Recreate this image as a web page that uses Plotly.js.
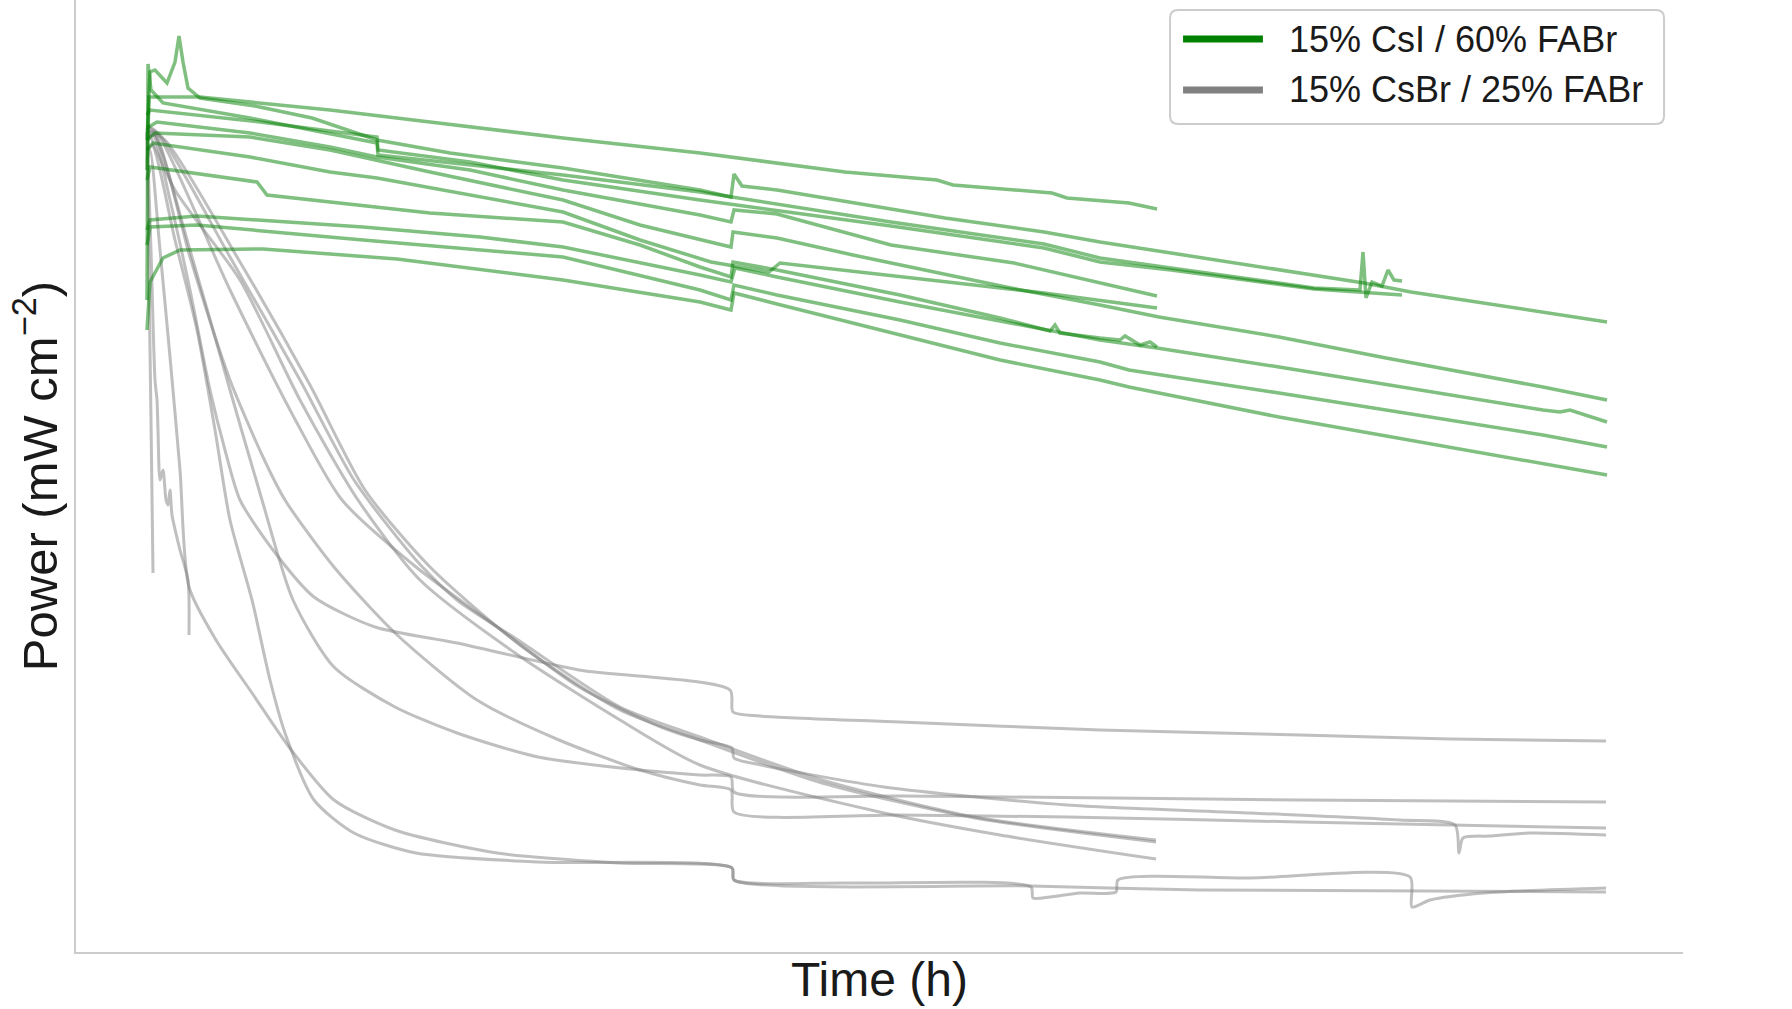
<!DOCTYPE html>
<html>
<head>
<meta charset="utf-8">
<script src="https://cdn.plot.ly/plotly-3.0.1.min.js"></script>
<style>
  html, body { margin: 0; padding: 0; background: #fff; }
  #chart { width: 1792px; height: 1009px; }
</style>
</head>
<body>
<div id="chart"></div>
<script>
// 15% CsI / 60% FABr cells: time (h) and power (mW cm-2)
var g1T = [0, 2, 53, 183, 283, 416, 553, 698, 790, 806, 905, 920, 982, 1010];
var g1P = [15.64, 17.10, 17.10, 16.84, 16.60, 16.28, 15.98, 15.60, 15.44, 15.34, 15.18, 15.08, 14.98, 14.86];
var g2T = [0, 3, 8, 20, 28, 32, 36, 41, 53, 108, 165, 230, 303, 416, 553, 584, 587, 595, 630, 691, 798, 897, 953, 1024, 1217, 1264, 1460];
var g2P = [16.24, 17.60, 17.64, 17.38, 17.80, 18.32, 17.80, 17.28, 17.08, 16.92, 16.68, 16.24, 15.98, 15.68, 15.24, 15.10, 15.56, 15.32, 15.24, 15.04, 14.68, 14.40, 14.20, 13.98, 13.38, 13.20, 12.60];
var g3T = [0, 1, 4, 16, 103, 230, 231, 323, 416, 553, 744, 897, 953, 1024, 1167, 1213, 1216, 1219, 1225, 1235, 1241, 1247, 1255];
var g3P = [13.04, 17.76, 17.24, 16.98, 16.68, 16.18, 15.94, 15.74, 15.54, 15.20, 14.60, 14.16, 13.88, 13.68, 13.28, 13.24, 14.00, 13.08, 13.40, 13.32, 13.64, 13.44, 13.42];
var g4T = [0, 3, 113, 230, 231, 323, 416, 553, 744, 897, 953, 1024, 1167, 1215, 1255];
var g4P = [16.74, 16.84, 16.60, 16.30, 16.04, 15.80, 15.44, 15.04, 14.52, 14.08, 13.80, 13.64, 13.26, 13.20, 13.14];
var g5T = [0, 10, 103, 183, 230, 323, 416, 553, 584, 587, 630, 744, 867, 953, 1010];
var g5P = [16.48, 16.60, 16.38, 16.10, 15.90, 15.64, 15.24, 14.74, 14.60, 14.84, 14.76, 14.14, 13.78, 13.38, 13.12];
var g6T = [0, 6, 103, 183, 230, 323, 416, 493, 553, 564, 622, 633, 783, 897, 1010];
var g6P = [16.04, 16.18, 15.90, 15.60, 15.48, 15.14, 14.80, 14.24, 13.88, 13.80, 13.60, 13.78, 13.44, 13.18, 12.88];
var g7T = [0, 8, 103, 183, 283, 416, 493, 553, 584, 586, 630, 706, 859, 953, 1012, 1132, 1239, 1396, 1460];
var g7P = [16.24, 16.38, 16.30, 16.04, 15.60, 15.04, 14.54, 14.24, 14.10, 14.40, 14.28, 13.94, 13.30, 12.94, 12.70, 12.30, 11.88, 11.30, 11.04];
var g8T = [0, 3, 110, 120, 283, 416, 493, 553, 584, 586, 630, 753, 853, 903, 908, 913, 953, 973, 978, 993, 1003, 1010];
var g8P = [15.44, 15.70, 15.40, 15.14, 14.78, 14.60, 14.14, 13.70, 13.50, 13.80, 13.64, 13.14, 12.68, 12.42, 12.54, 12.38, 12.28, 12.24, 12.32, 12.14, 12.20, 12.10];
var g9T = [0, 3, 50, 216, 333, 416, 553, 584, 588, 630, 753, 953, 1010, 1132, 1396, 1413, 1423, 1460];
var g9P = [14.44, 14.64, 14.72, 14.50, 14.30, 14.10, 13.54, 13.40, 13.68, 13.50, 13.00, 12.24, 12.08, 11.70, 10.84, 10.80, 10.84, 10.60];
var g10T = [0, 3, 50, 216, 416, 553, 584, 587, 630, 753, 853, 953, 982, 1132, 1396, 1413, 1460];
var g10P = [14.14, 14.50, 14.54, 14.24, 13.90, 13.24, 13.04, 13.34, 13.14, 12.64, 12.18, 11.80, 11.64, 11.18, 10.34, 10.28, 10.10];
var g11T = [0, 3, 16, 33, 116, 250, 416, 553, 584, 587, 630, 753, 853, 953, 982, 1132, 1396, 1413, 1460];
var g11P = [12.44, 13.40, 13.88, 14.04, 14.06, 13.86, 13.44, 13.00, 12.84, 13.18, 12.96, 12.34, 11.84, 11.44, 11.30, 10.70, 9.78, 9.72, 9.54];

// 15% CsBr / 25% FABr cells
var k1T = [0, 2, 4, 6];
var k1P = [16.24, 13.44, 10.64, 7.58];
var k2T = [0, 4, 8, 10, 11, 13, 16, 19, 21, 23, 25, 33, 41, 42];
var k2P = [16.40, 14.04, 11.44, 11.04, 10.44, 9.44, 9.64, 9.04, 8.94, 9.24, 8.74, 8.04, 7.44, 6.34];
var k3T = [0, 3, 13, 23, 33, 42, 69, 105, 142, 187, 248, 350, 473, 585, 587, 703, 884, 886, 903, 933, 969, 971, 1103, 1263, 1265, 1283, 1337, 1459];
var k3P = [15.84, 16.04, 14.04, 11.90, 9.64, 7.30, 6.24, 5.18, 4.10, 3.04, 2.44, 1.98, 1.78, 1.68, 1.44, 1.38, 1.30, 1.08, 1.10, 1.18, 1.20, 1.44, 1.48, 1.50, 0.90, 1.04, 1.18, 1.28];
var k4T = [0, 5, 28, 50, 68, 83, 105, 123, 138, 167, 207, 269, 391, 585, 587, 884, 1053, 1459];
var k4P = [16.04, 16.14, 14.24, 12.44, 10.44, 8.64, 7.04, 5.44, 4.38, 3.04, 2.38, 1.98, 1.80, 1.68, 1.44, 1.32, 1.24, 1.20];
var k5T = [0, 6, 23, 43, 63, 78, 93, 126, 167, 228, 310, 432, 583, 586, 613, 753, 953, 1153, 1303, 1459];
var k5P = [16.24, 16.34, 15.04, 13.24, 11.24, 10.04, 9.04, 8.04, 7.10, 6.50, 6.18, 5.64, 5.24, 4.80, 4.72, 4.60, 4.44, 4.34, 4.26, 4.22];
var k6T = [0, 6, 43, 83, 115, 146, 187, 248, 310, 391, 493, 553, 584, 587, 753, 859, 1153, 1459];
var k6P = [16.34, 16.40, 14.04, 11.24, 9.04, 7.04, 5.70, 4.90, 4.38, 3.90, 3.64, 3.54, 3.50, 3.20, 3.12, 3.10, 3.04, 3.00];
var k7T = [0, 8, 43, 83, 116, 138, 187, 248, 330, 412, 493, 553, 584, 587, 753, 920, 1153, 1459];
var k7P = [16.28, 16.34, 13.90, 11.44, 9.90, 9.04, 7.70, 6.38, 5.04, 4.24, 3.64, 3.34, 3.24, 2.80, 2.74, 2.70, 2.60, 2.48];
var k8T = [0, 10, 83, 150, 195, 269, 350, 432, 514, 553, 585, 587, 614, 737, 920, 1104, 1253, 1308, 1312, 1316, 1343, 1383, 1459];
var k8P = [16.48, 16.38, 13.24, 10.58, 9.04, 7.70, 6.50, 5.30, 4.50, 4.24, 4.08, 3.88, 3.74, 3.30, 2.94, 2.78, 2.64, 2.54, 1.98, 2.28, 2.32, 2.38, 2.34];
var k9T = [0, 13, 83, 153, 207, 269, 310, 371, 473, 553, 675, 828, 1009];
var k9P = [16.54, 16.34, 13.90, 11.44, 9.44, 7.84, 7.04, 6.24, 4.90, 4.30, 3.44, 2.70, 2.24];
var k10T = [0, 18, 93, 163, 218, 283, 373, 473, 553, 675, 828, 1009];
var k10P = [16.44, 16.24, 13.80, 11.34, 9.24, 7.70, 6.14, 4.84, 4.24, 3.38, 2.68, 2.20];
var k11T = [0, 28, 93, 153, 211, 273, 371, 473, 553, 737, 853, 1009];
var k11P = [16.48, 15.24, 13.44, 11.04, 9.04, 7.44, 5.94, 4.64, 3.74, 2.78, 2.34, 1.86];

var csiName = '15% CsI / 60% FABr';
var csbrName = '15% CsBr / 25% FABr';

var greenCells = [[g1T, g1P], [g2T, g2P], [g3T, g3P], [g4T, g4P], [g5T, g5P], [g6T, g6P],
                  [g7T, g7P], [g8T, g8P], [g9T, g9P], [g10T, g10P], [g11T, g11P]];
var grayCells = [[k1T, k1P], [k2T, k2P], [k3T, k3P], [k4T, k4P], [k5T, k5P], [k6T, k6P],
                 [k7T, k7P], [k8T, k8P], [k9T, k9P], [k10T, k10P], [k11T, k11P]];

var data = [];
grayCells.forEach(function(c) {
  data.push({
    x: c[0], y: c[1], type: 'scatter', mode: 'lines', name: csbrName,
    line: {color: 'rgba(128,128,128,0.5)', width: 3, shape: 'spline', smoothing: 0.7},
    showlegend: false
  });
});
greenCells.forEach(function(c) {
  data.push({
    x: c[0], y: c[1], type: 'scatter', mode: 'lines', name: csiName,
    line: {color: 'rgba(0,128,0,0.5)', width: 3.5}, showlegend: false
  });
});

var font = '"Liberation Sans", Arial, sans-serif';

var layout = {
  width: 1792,
  height: 1009,
  margin: {l: 76, r: 109, t: 0, b: 57},
  paper_bgcolor: '#ffffff',
  plot_bgcolor: '#ffffff',
  showlegend: false,
  font: {family: font, color: '#1a1a1a'},
  xaxis: {
    range: [-71, 1536],
    showline: true, linecolor: '#cccccc', linewidth: 2,
    showticklabels: false, ticks: '', showgrid: false, zeroline: false,
    title: {text: 'Time (h)', font: {size: 48, family: font, color: '#1a1a1a'}, standoff: 9}
  },
  yaxis: {
    range: [0, 19.04],
    showline: true, linecolor: '#cccccc', linewidth: 2,
    showticklabels: false, ticks: '', showgrid: false, zeroline: false,
    title: {text: 'Power (mW cm<sup>\u22122</sup>)', font: {size: 49, family: font, color: '#1a1a1a'}, standoff: 1}
  },
  shapes: [
    {
      type: 'path', xref: 'paper', yref: 'paper', layer: 'above',
      path: 'M0.6858,0.9895 L0.9832,0.9895 Q0.9882,0.9895 0.9882,0.9811 L0.9882,0.8781 Q0.9882,0.8697 0.9832,0.8697 L0.6858,0.8697 Q0.6808,0.8697 0.6808,0.8781 L0.6808,0.9811 Q0.6808,0.9895 0.6858,0.9895 Z',
      fillcolor: 'rgba(255,255,255,0.8)', line: {color: '#cccccc', width: 2}
    },
    {type: 'line', xref: 'paper', yref: 'paper', layer: 'above',
     x0: 0.6889, x1: 0.7386, y0: 0.9590, y1: 0.9590, line: {color: '#008000', width: 7}},
    {type: 'line', xref: 'paper', yref: 'paper', layer: 'above',
     x0: 0.6889, x1: 0.7386, y0: 0.9055, y1: 0.9055, line: {color: '#808080', width: 7}}
  ],
  annotations: [
    {xref: 'paper', yref: 'paper', x: 0.7535, y: 0.9590, xanchor: 'left', yanchor: 'middle',
     text: csiName, showarrow: false, font: {size: 36, family: font, color: '#1a1a1a'}},
    {xref: 'paper', yref: 'paper', x: 0.7535, y: 0.9055, xanchor: 'left', yanchor: 'middle',
     text: csbrName, showarrow: false, font: {size: 36, family: font, color: '#1a1a1a'}}
  ]
};

Plotly.newPlot('chart', data, layout, {staticPlot: true, displayModeBar: false});
</script>
</body>
</html>
